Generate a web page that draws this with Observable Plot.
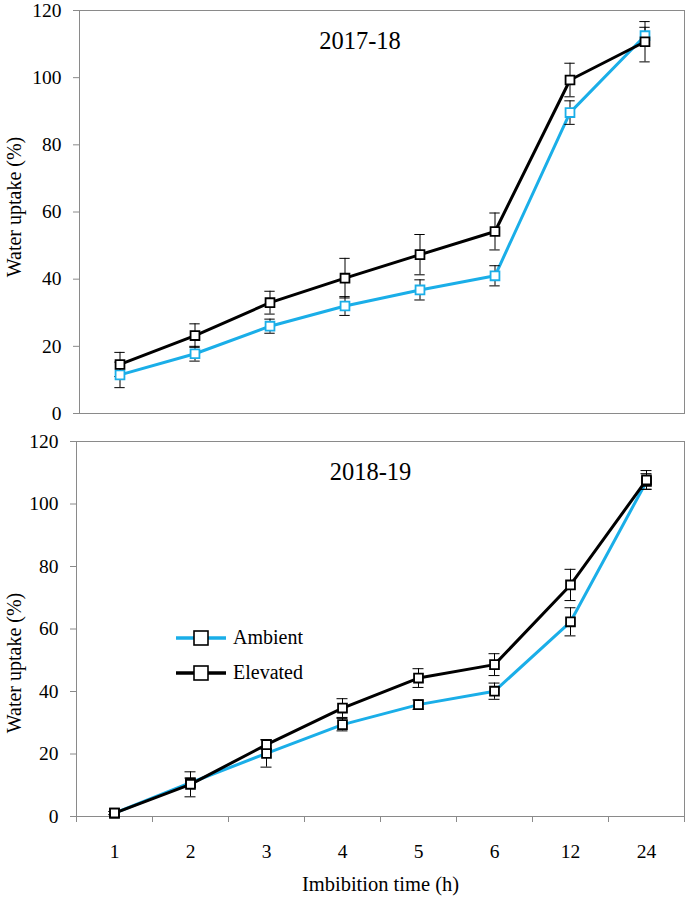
<!DOCTYPE html>
<html>
<head>
<meta charset="utf-8">
<script src="https://cdn.jsdelivr.net/npm/d3@7"></script>
<script src="https://cdn.jsdelivr.net/npm/@observablehq/plot@0.6"></script>
<style>
  html, body { margin: 0; padding: 0; background: #fff; }
  #wrap { position: relative; width: 685px; height: 897px; font-family: 'Liberation Serif', 'Times New Roman', Times, 'DejaVu Serif', serif; }
  #wrap svg { position: absolute; left: 0; overflow: visible; }
  #wrap svg text { font-family: 'Liberation Serif', 'Times New Roman', Times, 'DejaVu Serif', serif !important; }
  #legend { position: absolute; left: 176px; top: 620px; font-size: 20px; color: #000; }
  .lg { display: flex; align-items: center; height: 35px; }
  .lg svg { position: static !important; margin-right: 7px; }
</style>
</head>
<body>
<div id="wrap"></div>
<script>
// ---- data ----
const times = ["1", "2", "3", "4", "5", "6", "12", "24"];
const yTicks = [0, 20, 40, 60, 80, 100, 120];

// 2017-18
const ambient1718 = [11.5, 17.8, 26.0, 32.0, 36.8, 41.0, 89.6, 112.5];
const ambientSd1718 = [3.8, 2.2, 2.1, 2.8, 3.0, 3.0, 3.5, 2.5];
const elevated1718 = [14.6, 23.2, 33.0, 40.3, 47.3, 54.2, 99.3, 110.7];
const elevatedSd1718 = [3.6, 3.5, 3.4, 5.9, 6.0, 5.5, 5.0, 6.0];

// 2018-19
const ambient1819 = [1.1, 10.8, 20.2, 29.4, 35.8, 40.1, 62.3, 107.2];
const ambientSd1819 = [0.5, 1.5, 4.4, 2.0, 1.5, 2.6, 4.5, 2.5];
const elevated1819 = [1.1, 10.3, 23.0, 34.7, 44.3, 48.6, 74.1, 107.7];
const elevatedSd1819 = [0.5, 4.0, 1.5, 3.0, 3.0, 3.5, 5.0, 3.0];

const seriesNames = ["Ambient", "Elevated"];
const seasons = ["2017-18", "2018-19"];

const BLUE = "#1aaee8";
const GRAY = "#8a8a8a";
const FONT = "'Liberation Serif', 'Times New Roman', Times, 'DejaVu Serif', serif";

function rows(vals, sds, name) {
  return times.map((t, i) => ({ t, v: vals[i], lo: vals[i] - sds[i], hi: vals[i] + sds[i], name }));
}

function panel({ title, amb, elev, top, height, mt, mb, ml, mr, showX, ambMarker, titleDx, labelDy }) {
  const W = 685;
  const step = (W - ml - mr) / times.length;
  const a = rows(amb[0], amb[1], seriesNames[0]);
  const e = rows(elev[0], elev[1], seriesNames[1]);
  const capInset = step / 2 - 5.5;
  const marks = [
    Plot.frame({ stroke: GRAY, strokeWidth: 1 }),
    Plot.axisY(yTicks, { tickSize: 6, tickPadding: 12, stroke: GRAY, fill: "black", fontSize: 19.5, label: null }),
    Plot.line(a, { x: "t", y: "v", stroke: BLUE, strokeWidth: 3 }),
    Plot.line(e, { x: "t", y: "v", stroke: "black", strokeWidth: 3 }),
    Plot.ruleX(a, { x: "t", y1: "lo", y2: "hi", stroke: "black", strokeWidth: 1 }),
    Plot.tickY(a, { x: "t", y: "lo", stroke: "black", strokeWidth: 1, insetLeft: capInset, insetRight: capInset }),
    Plot.tickY(a, { x: "t", y: "hi", stroke: "black", strokeWidth: 1, insetLeft: capInset, insetRight: capInset }),
    Plot.ruleX(e, { x: "t", y1: "lo", y2: "hi", stroke: "black", strokeWidth: 1 }),
    Plot.tickY(e, { x: "t", y: "lo", stroke: "black", strokeWidth: 1, insetLeft: capInset, insetRight: capInset }),
    Plot.tickY(e, { x: "t", y: "hi", stroke: "black", strokeWidth: 1, insetLeft: capInset, insetRight: capInset }),
    Plot.dot(a, { x: "t", y: "v", symbol: "square", r: 5, fill: "white", stroke: ambMarker, strokeWidth: 1.8 }),
    Plot.dot(e, { x: "t", y: "v", symbol: "square", r: 5, fill: "white", stroke: "black", strokeWidth: 1.8 }),
    Plot.text([title], { frameAnchor: "top", dx: titleDx, dy: 31, text: d => d, fontSize: 24.5, fill: "black", lineAnchor: "middle" }),
    Plot.text(["Water uptake (%)"], { frameAnchor: "left", dx: -(ml - 14), dy: labelDy, rotate: -90, text: d => d, fontSize: 20, fill: "black", textAnchor: "middle", lineAnchor: "middle" })
  ];
  if (showX) {
    marks.push(
      Plot.ruleX(times, { x: d => d, y1: 0, y2: 0, dx: -step / 2, insetBottom: -6, stroke: GRAY }),
      Plot.ruleX(times.slice(-1), { x: d => d, y1: 0, y2: 0, dx: step / 2, insetBottom: -6, stroke: GRAY }),
      Plot.axisX({ tickSize: 0, tickPadding: 28, fontSize: 19.5, fill: "black", label: null }),
      Plot.text(["Imbibition time (h)"], { frameAnchor: "bottom", dy: 68, text: d => d, fontSize: 20.5, fill: "black", lineAnchor: "middle" })
    );
  }
  const svg = Plot.plot({
    width: W, height,
    marginTop: mt, marginBottom: mb, marginLeft: ml, marginRight: mr,
    style: { fontFamily: FONT, fontSize: "19.5px", color: "black", background: "white", overflow: "visible" },
    x: { type: "band", domain: times, padding: 0, axis: null },
    y: { domain: [0, 120], axis: null },
    marks
  });
  svg.style.top = top + "px";
  return svg;
}

const wrap = document.getElementById("wrap");
wrap.appendChild(panel({
  title: seasons[0], amb: [ambient1718, ambientSd1718], elev: [elevated1718, elevatedSd1718],
  top: 0, height: 420, mt: 10, mb: 7, ml: 79, mr: 1, showX: false, ambMarker: BLUE, titleDx: -22, labelDy: -5
}));
wrap.appendChild(panel({
  title: seasons[1], amb: [ambient1819, ambientSd1819], elev: [elevated1819, elevatedSd1819],
  top: 430, height: 467, mt: 11, mb: 81, ml: 76, mr: 1, showX: true, ambMarker: "black", titleDx: -10, labelDy: 34
}));

// legend
const legend = document.createElement("div");
legend.id = "legend";
[[seriesNames[0], BLUE], [seriesNames[1], "black"]].forEach(([name, col]) => {
  const row = document.createElement("div");
  row.className = "lg";
  row.innerHTML = `<svg width="50" height="20"><line x1="0" x2="50" y1="10" y2="10" stroke="${col}" stroke-width="3.5"/><rect x="18" y="3" width="14" height="14" fill="white" stroke="black" stroke-width="1.6"/></svg><span>${name}</span>`;
  legend.appendChild(row);
});
wrap.appendChild(legend);
</script>
</body>
</html>
